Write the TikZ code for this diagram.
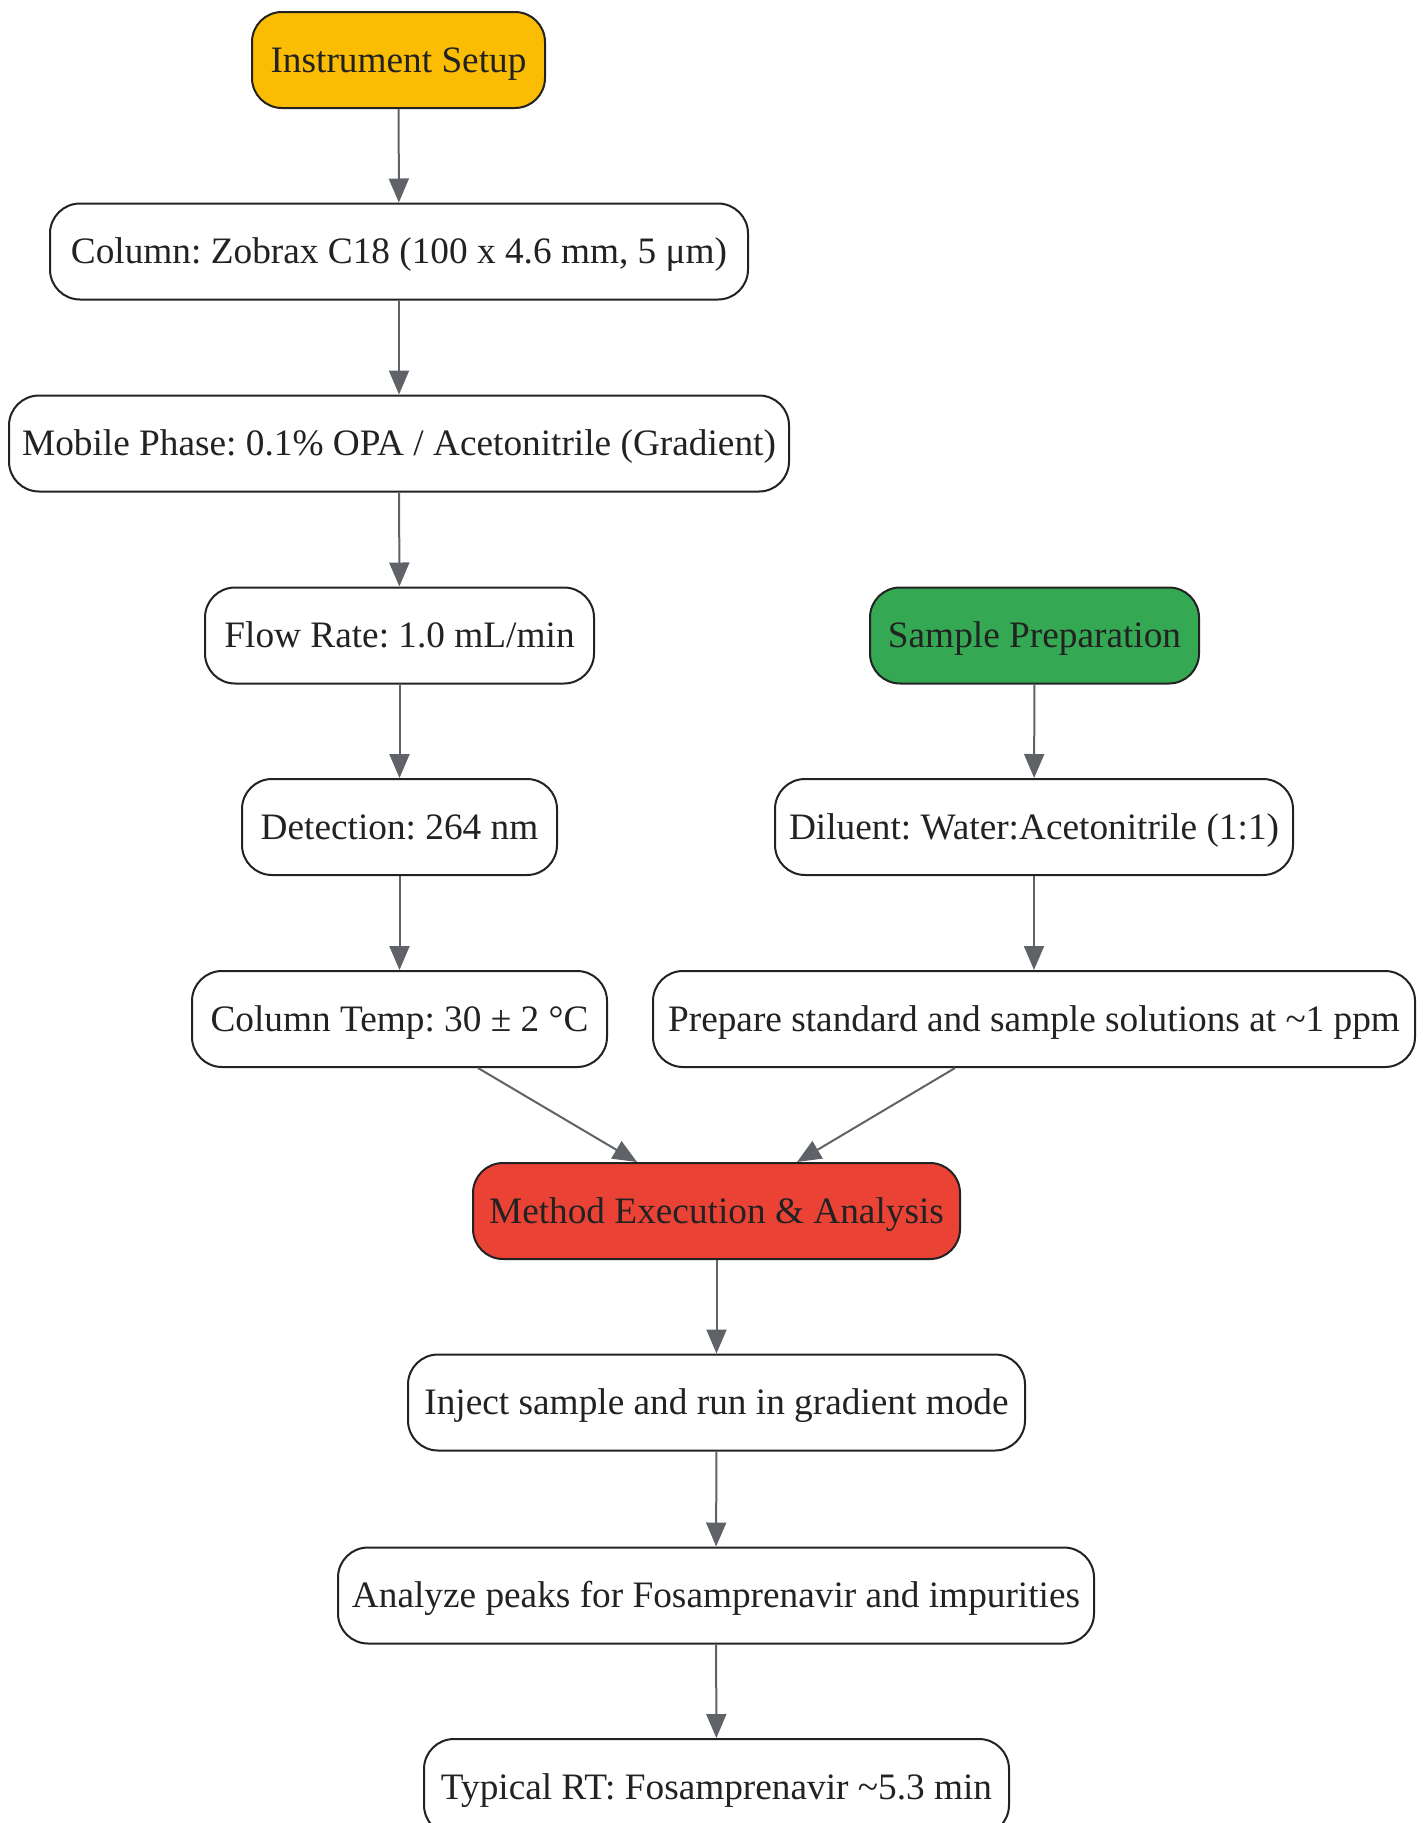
\documentclass[tikz,border=0pt]{standalone}
\usepackage{fontspec}
\setmainfont{Liberation Serif}
\usetikzlibrary{arrows.meta}
\definecolor{ylw}{HTML}{FBBC04}
\definecolor{grn}{HTML}{34A853}
\definecolor{rd}{HTML}{EA4335}
\definecolor{edge}{HTML}{5F6368}
\definecolor{txt}{HTML}{222222}
\frenchspacing
\begin{document}
\begin{tikzpicture}[x=1pt,y=-1pt,
  box/.style={draw=txt, line width=2pt, rounded corners=30pt, fill=white,
    minimum height=96pt, inner sep=0pt, text=txt,
    text height=28pt, text depth=3.5pt,
    font=\fontsize{37.3}{44}\selectfont},
  conn/.style={draw=edge, line width=2pt, -{Triangle[length=24pt,width=20pt]}}]
\useasboundingbox (0,0) rectangle (1423,1823);
\node[box, fill=ylw, minimum width=293pt] (is) at (398.5,60) {Instrument Setup};
\node[box, minimum width=698pt] (col) at (399,251.5) {Column: Zobrax C18 (100 x 4.6 mm, 5 μm)};
\node[box, minimum width=780pt] (mp) at (399,443.5) {Mobile Phase: 0.1\% OPA / Acetonitrile (Gradient)};
\node[box, minimum width=389pt] (fr) at (399.5,635.5) {Flow Rate: 1.0 mL/min};
\node[box, minimum width=315pt] (det) at (399.5,827) {Detection: 264 nm};
\node[box, minimum width=415pt] (ct) at (399.5,1019) {Column Temp: 30 ± 2 °C};
\node[box, fill=grn, minimum width=329pt] (sp) at (1034.5,635.5) {Sample Preparation};
\node[box, minimum width=518pt] (dil) at (1034,827) {Diluent: Water:Acetonitrile (1:1)};
\node[box, minimum width=762pt] (prep) at (1034,1019) {Prepare standard and sample solutions at \char`~1 ppm};
\node[box, fill=rd, minimum width=487pt] (me) at (716.5,1211) {Method Execution \& Analysis};
\node[box, minimum width=617pt] (inj) at (716.5,1402.5) {Inject sample and run in gradient mode};
\node[box, minimum width=756pt] (an) at (716,1595.5) {Analyze peaks for Fosamprenavir and impurities};
\node[box, minimum width=585pt] (rt) at (716.5,1787) {Typical RT: Fosamprenavir \char`~5.3 min};
\draw[conn] (is) -- (col);
\draw[conn] (col) -- (mp);
\draw[conn] (mp) -- (fr);
\draw[conn] (fr) -- (det);
\draw[conn] (det) -- (ct);
\draw[conn] (sp) -- (dil);
\draw[conn] (dil) -- (prep);
\draw[conn] ([xshift=78.5pt]ct.south) -- ([xshift=-79.5pt]me.north);
\draw[conn] ([xshift=-79pt]prep.south) -- ([xshift=80.5pt]me.north);
\draw[conn] (me) -- (inj);
\draw[conn] (inj) -- (an);
\draw[conn] (an) -- (rt);
\end{tikzpicture}
\end{document}
